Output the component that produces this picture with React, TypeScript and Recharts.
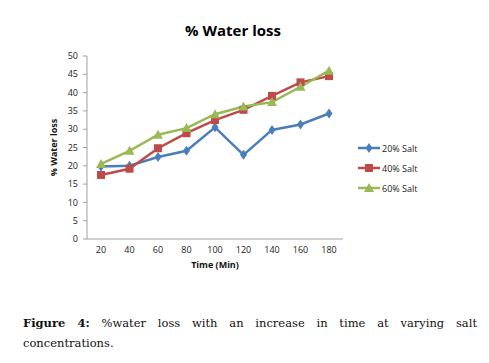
import { LineChart, Line, XAxis, YAxis, Legend, Label } from 'recharts'

const times = ['20', '40', '60', '80', '100', '120', '140', '160', '180']
const salt20 = [19.8, 20.0, 22.4, 24.1, 30.5, 23.0, 29.8, 31.3, 34.3]
const salt40 = [17.5, 19.2, 24.8, 28.9, 32.5, 35.3, 39.1, 42.8, 44.5]
const salt60 = [20.5, 24.1, 28.5, 30.3, 34.1, 36.2, 37.4, 41.6, 46.0]
const yTicks = [0, 5, 10, 15, 20, 25, 30, 35, 40, 45, 50]

const BLUE = '#4A7EBB'
const RED = '#BE4B48'
const GREEN = '#98B954'
const FONT = '"Open Sans", "Liberation Sans", sans-serif'
const SERIF = '"DejaVu Serif", serif'

const data = times.map((t, i) => ({
  time: t,
  s20: salt20[i],
  s40: salt40[i],
  s60: salt60[i],
}))

function Marker({ kind, cx, cy, color }: { kind: string; cx: number; cy: number; color: string }) {
  if (kind === 'diamond') {
    return (
      <path
        d={`M${cx},${cy - 5} L${cx + 3.5},${cy} L${cx},${cy + 5} L${cx - 3.5},${cy} Z`}
        fill={color}
      />
    )
  }
  if (kind === 'square') {
    return <rect x={cx - 4} y={cy - 4} width={8} height={8} fill={color} />
  }
  return <path d={`M${cx},${cy - 5} L${cx + 5},${cy + 4} L${cx - 5},${cy + 4} Z`} fill={color} />
}

const dotFor = (kind: string, color: string) => (props: any) => {
  const { cx, cy, index } = props
  if (cx == null || cy == null) return <g key={index} />
  return <Marker key={index} kind={kind} cx={cx} cy={cy} color={color} />
}

const legendItems = [
  { label: '20% Salt', color: BLUE, kind: 'diamond' },
  { label: '40% Salt', color: RED, kind: 'square' },
  { label: '60% Salt', color: GREEN, kind: 'triangle' },
]

function LegendContent() {
  return (
    <div>
      {legendItems.map((it) => (
        <div key={it.label} style={{ display: 'flex', alignItems: 'center', height: 20 }}>
          <svg width={24} height={12}>
            <line x1={0} y1={6} x2={22} y2={6} stroke={it.color} strokeWidth={2.5} />
            <Marker kind={it.kind} cx={11} cy={6} color={it.color} />
          </svg>
          <span style={{ fontFamily: FONT, fontSize: 9, color: '#222' }}>{it.label}</span>
        </div>
      ))}
    </div>
  )
}

export default function App() {
  return (
    <div
      style={{
        position: 'absolute',
        left: 0,
        top: 0,
        width: 489,
        height: 363,
        background: '#fff',
        overflow: 'hidden',
      }}
    >
      <div
        style={{
          position: 'absolute',
          left: 0,
          width: 466,
          top: 20,
          textAlign: 'center',
          fontFamily: FONT,
          fontWeight: 700,
          fontSize: 15,
          color: '#000',
        }}
      >
        % Water loss
      </div>
      <div style={{ position: 'absolute', left: 0, top: 0 }}>
        <LineChart
          width={489}
          height={290}
          data={data}
          margin={{ top: 56, right: 146, left: 50, bottom: 21 }}
        >
          <XAxis
            dataKey="time"
            tickLine={false}
            padding={{ left: 14, right: 14 }}
            axisLine={{ stroke: '#A0A0A0' }}
            tick={{ fill: '#222', fontSize: 9, fontFamily: FONT }}
            height={30}
          >
            <Label
              value="Time (Min)"
              position="bottom"
              offset={-7}
              style={{ fontFamily: FONT, fontSize: 9, fontWeight: 700, fill: '#111' }}
            />
          </XAxis>
          <YAxis
            domain={[0, 50]}
            ticks={yTicks}
            width={37}
            tickSize={4}
            tickMargin={5}
            tickLine={{ stroke: '#A0A0A0' }}
            axisLine={{ stroke: '#A0A0A0' }}
            tick={{ fill: '#222', fontSize: 9, fontFamily: FONT }}
          >
            <Label
              value="% Water loss"
              angle={-90}
              position="left"
              offset={-4}
              style={{ fontFamily: FONT, fontSize: 9, fontWeight: 700, fill: '#111', textAnchor: 'middle' }}
            />
          </YAxis>
          <Legend
            layout="vertical"
            align="center"
            verticalAlign="middle"
            content={<LegendContent />}
            wrapperStyle={{ left: 358, top: 138, width: 100 }}
          />
          <Line
            dataKey="s20"
            name="20% Salt"
            stroke={BLUE}
            strokeWidth={2.5}
            dot={dotFor('diamond', BLUE)}
            isAnimationActive={false}
          />
          <Line
            dataKey="s40"
            name="40% Salt"
            stroke={RED}
            strokeWidth={2.5}
            dot={dotFor('square', RED)}
            isAnimationActive={false}
          />
          <Line
            dataKey="s60"
            name="60% Salt"
            stroke={GREEN}
            strokeWidth={2.5}
            dot={dotFor('triangle', GREEN)}
            isAnimationActive={false}
          />
        </LineChart>
      </div>
      <div
        style={{
          position: 'absolute',
          left: 23,
          width: 454,
          top: 313,
          fontFamily: SERIF,
          fontSize: 11.5,
          lineHeight: '20px',
          color: '#111',
        }}
      >
        <div style={{ textAlign: 'justify', textAlignLast: 'justify', whiteSpace: 'normal' }}>
          <b>Figure 4:</b> %water loss with an increase in time at varying salt
        </div>
        <div>concentrations.</div>
      </div>
    </div>
  )
}
